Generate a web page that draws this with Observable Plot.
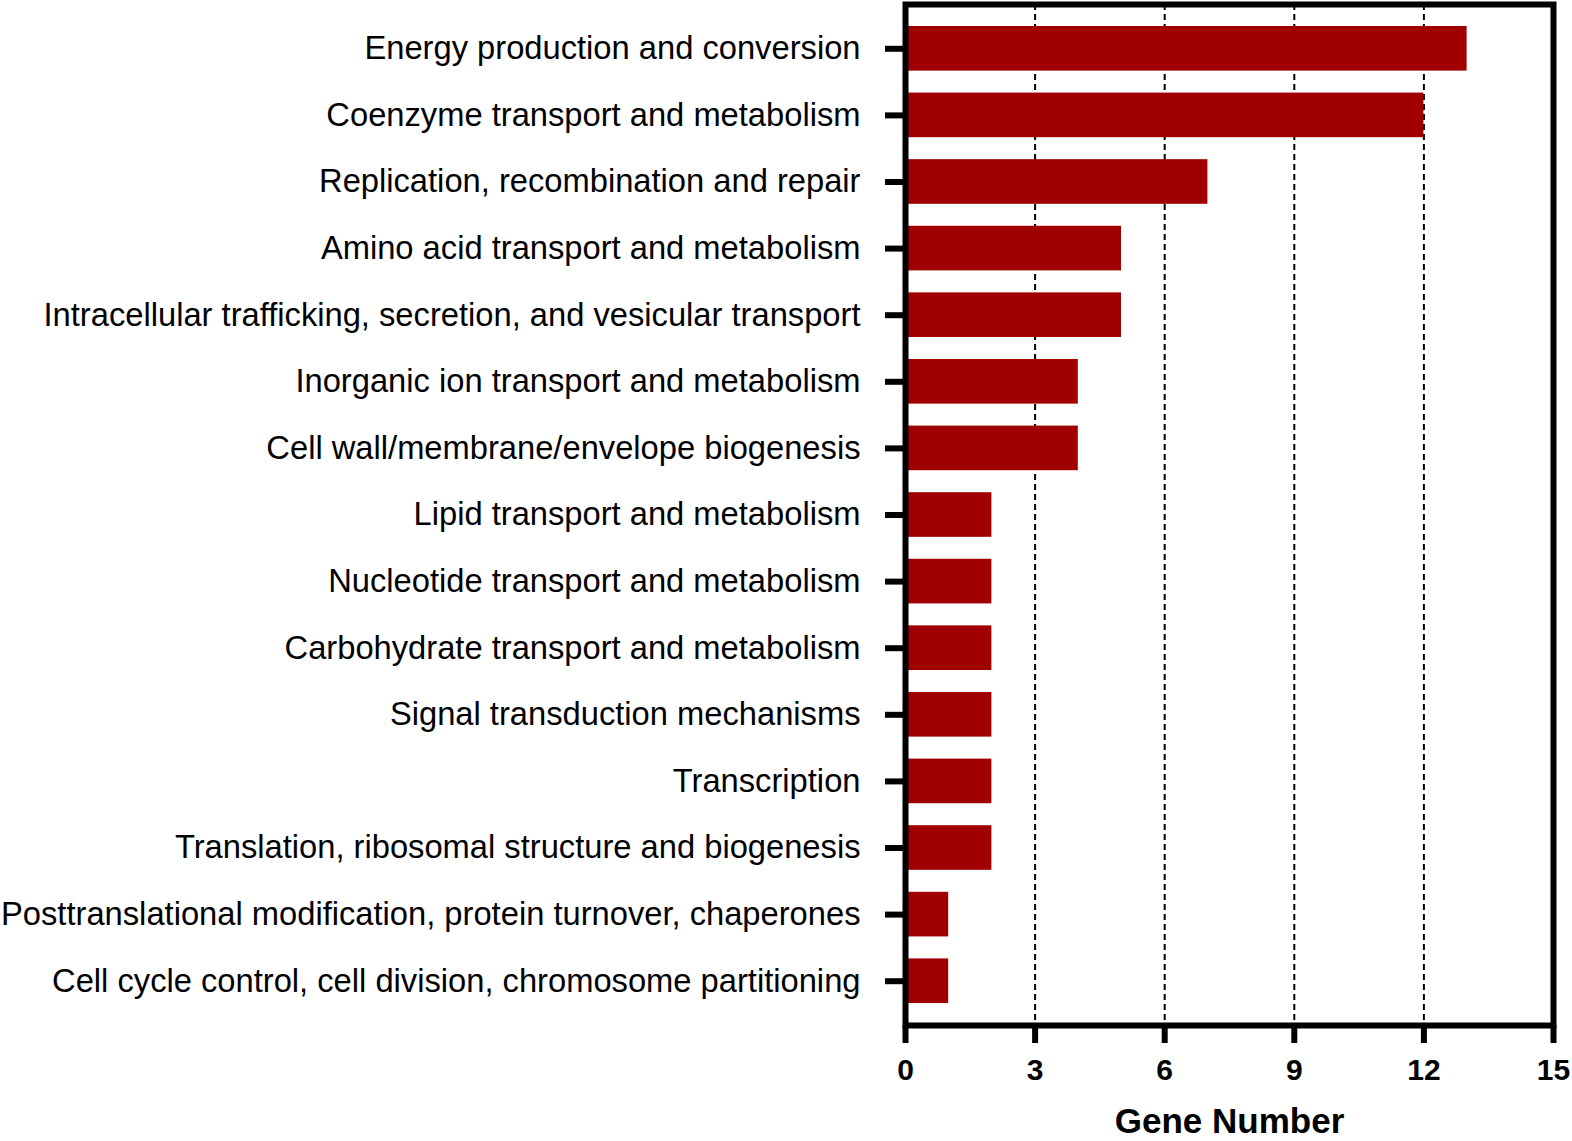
<!DOCTYPE html>
<html><head><meta charset="utf-8">
<script src="https://cdn.jsdelivr.net/npm/d3@7"></script>
<script src="https://cdn.jsdelivr.net/npm/@observablehq/plot@0.6"></script>
<style>html,body{margin:0;padding:0;background:#fff} svg{display:block}</style>
</head><body><div id="chart"></div>
<script>
const categories = [
  "Energy production and conversion",
  "Coenzyme transport and metabolism",
  "Replication, recombination and repair",
  "Amino acid transport and metabolism",
  "Intracellular trafficking, secretion, and vesicular transport",
  "Inorganic ion transport and metabolism",
  "Cell wall/membrane/envelope biogenesis",
  "Lipid transport and metabolism",
  "Nucleotide transport and metabolism",
  "Carbohydrate transport and metabolism",
  "Signal transduction mechanisms",
  "Transcription",
  "Translation, ribosomal structure and biogenesis",
  "Posttranslational modification, protein turnover, chaperones",
  "Cell cycle control, cell division, chromosome partitioning"
];
const geneCounts = [13, 12, 7, 5, 5, 4, 4, 2, 2, 2, 2, 2, 2, 1, 1];
const xTicks = [0, 3, 6, 9, 12, 15];
const gridTicks = [3, 6, 9, 12];
const xLabel = "Gene Number";

const data = categories.map((c, i) => ({category: c, count: geneCounts[i]}));

const chart = Plot.plot({
  width: 1572,
  height: 1141,
  marginLeft: 905,
  marginRight: 19,
  marginTop: 4,
  marginBottom: 116,
  style: {fontFamily: "'Liberation Sans', Arial, sans-serif", background: "#fff", color: "#000"},
  x: {domain: [0, 15]},
  y: {domain: categories, padding: 0.33, round: false},
  marks: [
    Plot.ruleX(gridTicks, {stroke: "#000", strokeWidth: 2, strokeDasharray: "6,4"}),
    Plot.barX(data, {x: "count", y: "category", fill: "#a00000"}),
    Plot.frame({stroke: "#000", strokeWidth: 6}),
    Plot.axisY({tickSize: 20, tickPadding: 25, strokeWidth: 6, fontSize: 32.7, label: null}),
    Plot.axisX({ticks: xTicks, tickSize: 18, tickPadding: 15, strokeWidth: 6, fontSize: 30, fontWeight: "bold", label: null}),
    Plot.axisX({ticks: [], label: xLabel, labelAnchor: "center", labelOffset: 107, labelArrow: "none", fontSize: 35, fontWeight: "bold"})
  ]
});
document.getElementById("chart").appendChild(chart);
</script>
</body></html>
